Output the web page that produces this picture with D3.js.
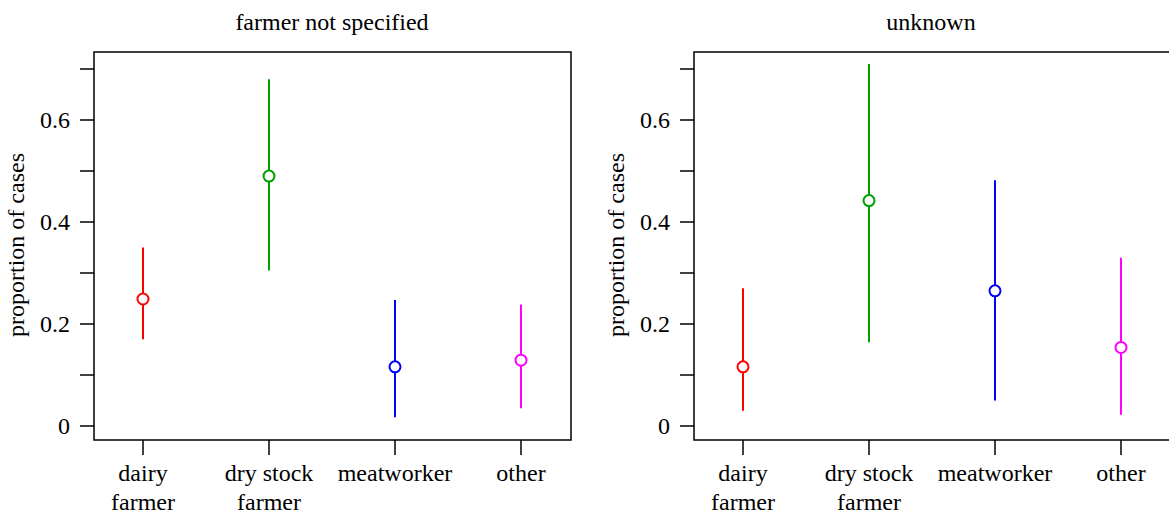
<!DOCTYPE html><html><head><meta charset="utf-8">
<script src="https://cdn.jsdelivr.net/npm/d3@7"></script>
<style>body{margin:0;background:#fff}svg{font-family:"Liberation Serif","Times New Roman",serif}</style></head><body>
<svg id="c" width="1169" height="510"></svg>
<script>
const categories=[["dairy","farmer"],["dry stock","farmer"],["meatworker"],["other"]];
const colors=["#ff0000","#00a000","#0000ff","#ff00ff"];
const panels=["farmer not specified","unknown"];
const est=[[0.249,0.49,0.116,0.129],[0.116,0.442,0.265,0.154]];
const lo=[[0.17,0.305,0.017,0.035],[0.03,0.164,0.05,0.022]];
const hi=[[0.35,0.68,0.247,0.238],[0.27,0.71,0.482,0.33]];
const yTicks=[0,0.1,0.2,0.3,0.4,0.5,0.6,0.7];
const svg=d3.select("#c");
const boxes=[[94,571],[694,1172]];
const fs=24;
panels.forEach((t,p)=>{
 const [x0,x1]=boxes[p];
 const g=svg.append("g");
 const y=d3.scaleLinear().domain([0,0.6]).range([426,120]);
 const x=d3.scalePoint().domain(d3.range(4)).range([x0+49,x0+427]);
 g.append("rect").attr("x",x0).attr("y",52).attr("width",x1-x0).attr("height",388).attr("fill","none").attr("stroke","#000").attr("stroke-width",1.5);
 g.append("text").attr("x",p?931:332).attr("y",30).attr("text-anchor","middle").attr("font-size",fs).text(t);
 yTicks.forEach((v,i)=>{
  g.append("line").attr("x1",x0-14).attr("x2",x0).attr("y1",y(v)).attr("y2",y(v)).attr("stroke","#000").attr("stroke-width",1.5);
  if(i%2==0) g.append("text").attr("x",x0-24).attr("y",y(v)+8).attr("text-anchor","end").attr("font-size",fs).text(v===0?"0":v.toFixed(1));
 });
 g.append("text").attr("transform",`translate(${x0-70},245) rotate(-90)`).attr("text-anchor","middle").attr("font-size",fs).text("proportion of cases");
 categories.forEach((c,i)=>{
  g.append("line").attr("x1",x(i)).attr("x2",x(i)).attr("y1",440).attr("y2",455).attr("stroke","#000").attr("stroke-width",1.5);
  c.forEach((s,j)=>g.append("text").attr("x",x(i)).attr("y",481+j*29).attr("text-anchor","middle").attr("font-size",fs).text(s));
  g.append("line").attr("x1",x(i)).attr("x2",x(i)).attr("y1",y(lo[p][i])).attr("y2",y(hi[p][i])).attr("stroke",colors[i]).attr("stroke-width",2);
  g.append("circle").attr("cx",x(i)).attr("cy",y(est[p][i])).attr("r",5.5).attr("fill","#fff").attr("stroke",colors[i]).attr("stroke-width",2);
 });
});
</script></body></html>
